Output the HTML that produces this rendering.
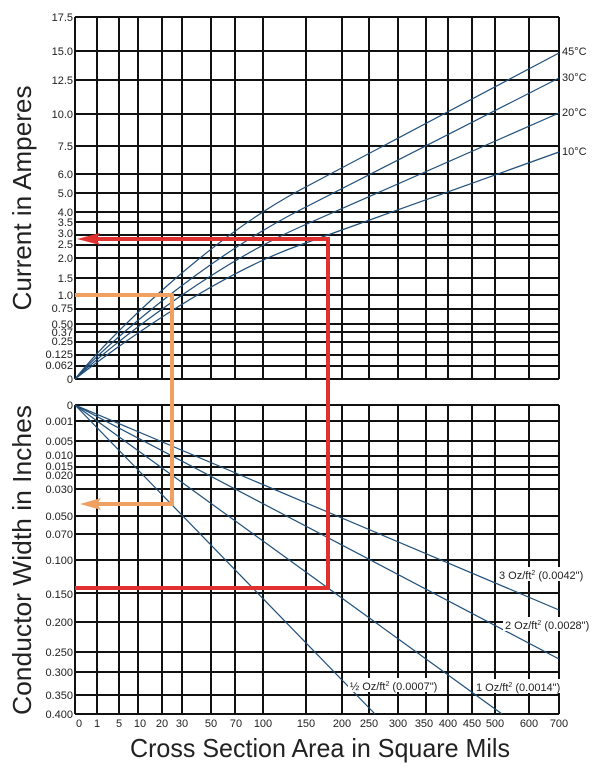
<!DOCTYPE html>
<html><head><meta charset="utf-8"><style>
html,body{margin:0;padding:0;background:#fff;}
svg{display:block;font-family:"Liberation Sans",sans-serif;}
.t{font-size:11px;fill:#222;text-anchor:end;}
.b{font-size:11px;fill:#222;text-anchor:middle;}
.g{stroke:#111;stroke-width:2;fill:none;}
.c{stroke:#1f4e79;stroke-width:1.2;fill:none;}
</style></head><body>
<svg width="600" height="768" viewBox="0 0 600 768">
<rect width="600" height="768" fill="#fff"/>
<g class="g">
<path d="M75 17V379M97 17V379M119 17V379M138 17V379M162 17V379M182 17V379M211 17V379M235 17V379M263 17V379M306 17V379M342 17V379M369 17V379M398 17V379M426 17V379M448 17V379M472 17V379M495 17V379M529 17V379M559 17V379"/>
<path d="M75 405V714M97 405V714M119 405V714M138 405V714M162 405V714M182 405V714M211 405V714M235 405V714M263 405V714M306 405V714M342 405V714M369 405V714M398 405V714M426 405V714M448 405V714M472 405V714M495 405V714M529 405V714M559 405V714"/>
<path d="M75 17H559M75 51H559M75 80H559M75 114H559M75 146H559M75 174H559M75 193H559M75 212H559M75 222H559M75 235H559M75 245H559M75 258H559M75 278H559M75 295H559M75 309H559M75 324H559M75 332H559M75 342H559M75 355H559M75 366H559M75 379H559"/>
<path d="M75 405H559M75 421H559M75 441H559M75 456H559M75 467H559M75 475H559M75 489H559M75 516H559M75 534H559M75 560H559M75 593H559M75 622H559M75 652H559M75 672H559M75 695H559M75 714H559"/>
</g>
<g class="t">
<text x="73" y="21">17.5</text><text x="73" y="55">15.0</text><text x="73" y="84">12.5</text><text x="73" y="118">10.0</text><text x="73" y="150">7.5</text><text x="73" y="178">6.0</text><text x="73" y="197">5.0</text><text x="73" y="216">4.0</text><text x="73" y="226">3.5</text><text x="73" y="237">3.0</text><text x="73" y="248">2.5</text><text x="73" y="262">2.0</text><text x="73" y="282">1.5</text><text x="73" y="299">1.0</text><text x="73" y="312">0.75</text><text x="73" y="328">0.50</text><text x="73" y="336">0.37</text><text x="73" y="345">0.25</text><text x="73" y="358">0.125</text><text x="73" y="369">0.062</text><text x="73" y="383">0</text>
<text x="73" y="409">0</text><text x="73" y="425">0.001</text><text x="73" y="445">0.005</text><text x="73" y="459">0.010</text><text x="73" y="470">0.015</text><text x="73" y="479">0.020</text><text x="73" y="493">0.030</text><text x="73" y="520">0.050</text><text x="73" y="538">0.070</text><text x="73" y="564">0.100</text><text x="73" y="598">0.150</text><text x="73" y="626">0.200</text><text x="73" y="656">0.250</text><text x="73" y="676">0.300</text><text x="73" y="699">0.350</text><text x="73" y="718">0.400</text>
</g>
<g class="b">
<text x="79" y="727">0</text><text x="97" y="727">1</text><text x="119" y="727">5</text><text x="140" y="727">10</text><text x="162" y="727">20</text><text x="182" y="727">30</text><text x="211" y="727">50</text><text x="236" y="727">70</text><text x="263" y="727">100</text><text x="306" y="727">150</text><text x="342" y="727">200</text><text x="369" y="727">250</text><text x="398" y="727">300</text><text x="424" y="727">350</text><text x="448" y="727">400</text><text x="472" y="727">450</text><text x="495" y="727">500</text><text x="529" y="727">600</text><text x="559" y="727">700</text>
</g>
<g class="c">
<path d="M75 379 C110 335 210 238 300 190 L559 53"/>
<path d="M75 379 C110 340 210 256 300 210 L559 78"/>
<path d="M75 379 C110 346 210 267 300 227 L559 113"/>
<path d="M75 379 C110 352 210 277 300 245 L559 152"/>
</g>
<g class="c">
<path d="M75 405 L559 610"/>
<path d="M75 405 L559 659"/>
<path d="M75 405 L502 714"/>
<path d="M75 405 L375 714"/>
</g>
<g stroke="#f0a060" stroke-width="4" fill="none">
<path d="M75 295 H172 V504 H95"/>
</g>
<polygon points="80,504 101,498 97,504 101,510" fill="#f0a060"/>
<g stroke="#e03030" stroke-width="4" fill="none">
<path d="M95 239 H328 V588 H75"/>
</g>
<polygon points="77,239 100,233 96,239 100,245" fill="#e03030"/>
<g font-size="11" fill="#222">
<text x="562" y="55">45°C</text>
<text x="562" y="81">30°C</text>
<text x="562" y="116">20°C</text>
<text x="562" y="155">10°C</text>
<rect x="497" y="567" width="92" height="14" fill="#fff"/>
<text x="499" y="579">3 Oz/ft<tspan font-size="7" dy="-4">2</tspan><tspan dy="4"> (0.0042")</tspan></text>
<rect x="503" y="617" width="94" height="14" fill="#fff"/>
<text x="505" y="629">2 Oz/ft<tspan font-size="7" dy="-4">2</tspan><tspan dy="4"> (0.0028")</tspan></text>
<rect x="348" y="678" width="98" height="14" fill="#fff"/>
<text x="350" y="690">½ Oz/ft<tspan font-size="7" dy="-4">2</tspan><tspan dy="4"> (0.0007")</tspan></text>
<rect x="474" y="679" width="96" height="14" fill="#fff"/>
<text x="476" y="691">1 Oz/ft<tspan font-size="7" dy="-4">2</tspan><tspan dy="4"> (0.0014")</tspan></text>
</g>
<g font-size="26" fill="#222" text-anchor="middle">
<text transform="translate(31,198) rotate(-90)" textLength="225" lengthAdjust="spacingAndGlyphs">Current in Amperes</text>
<text transform="translate(31,560) rotate(-90)" textLength="310" lengthAdjust="spacingAndGlyphs">Conductor Width in Inches</text>
<text x="320" y="757" textLength="380" lengthAdjust="spacingAndGlyphs">Cross Section Area in Square Mils</text>
</g>
</svg>
</body></html>
